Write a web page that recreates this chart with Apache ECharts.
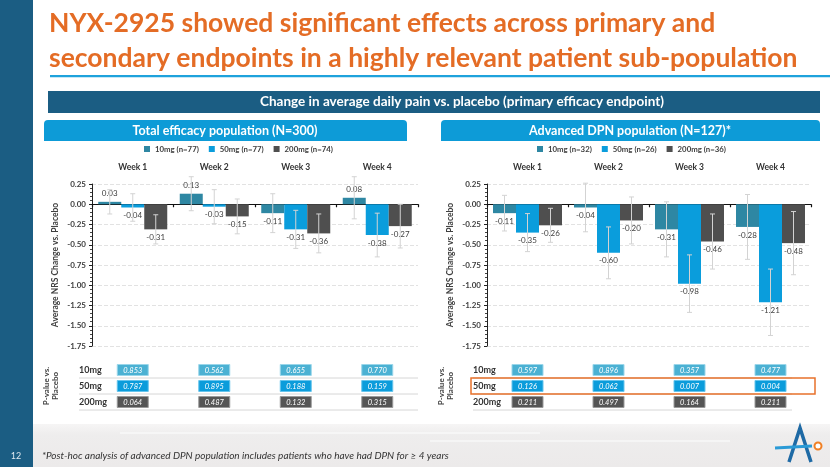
<!DOCTYPE html>
<html>
<head>
<meta charset="utf-8">
<script src="https://cdn.jsdelivr.net/npm/echarts@6/dist/echarts.min.js"></script>
<style>
html,body{margin:0;padding:0;background:#fff;}
#c{width:830px;height:467px;}
</style>
</head>
<body>
<div id="c"></div>
<script>
// ---- data ----
const weeks = ['Week 1', 'Week 2', 'Week 3', 'Week 4'];
const doses = ['10mg', '50mg', '200mg'];
const totalNames = ['10mg (n=77)', '50mg (n=77)', '200mg (n=74)'];
const advNames = ['10mg (n=32)', '50mg (n=26)', '200mg (n=36)'];

const total10 = [0.03, 0.13, -0.11, 0.08];
const total50 = [-0.04, -0.03, -0.31, -0.38];
const total200 = [-0.31, -0.15, -0.36, -0.27];
const total10Err = [0.15, 0.21, 0.24, 0.26];
const total50Err = [0.17, 0.21, 0.235, 0.27];
const total200Err = [0.18, 0.215, 0.24, 0.27];

const adv10 = [-0.11, -0.04, -0.31, -0.28];
const adv50 = [-0.35, -0.60, -0.98, -1.21];
const adv200 = [-0.26, -0.20, -0.46, -0.48];
const adv10Err = [0.22, 0.30, 0.34, 0.40];
const adv50Err = [0.235, 0.32, 0.355, 0.41];
const adv200Err = [0.21, 0.29, 0.34, 0.39];

const totalP10 = [0.853, 0.562, 0.655, 0.770];
const totalP50 = [0.787, 0.895, 0.188, 0.159];
const totalP200 = [0.064, 0.487, 0.132, 0.315];
const advP10 = [0.597, 0.896, 0.357, 0.477];
const advP50 = [0.126, 0.062, 0.007, 0.004];
const advP200 = [0.211, 0.497, 0.164, 0.211];

const yMin = -1.75, yMax = 0.25, yStep = 0.25;

// ---- styling ----
const FONT = 'Lato, "Open Sans", sans-serif';
const barColors = ['#2e87a3', '#0a9ddc', '#4f4f4f'];
const boxColors = ['#4bb1d3', '#0b9cdb', '#555555'];
const boxStroke = ['#9ad6ea', '#66c4ec', '#9a9a9a'];
const BAR_W = 23;
const offsets = [-BAR_W, 0, BAR_W];

const chart = echarts.init(document.getElementById('c'), null, {renderer: 'canvas'});

function valueAxis(gridIndex) {
  return {
    type: 'value', gridIndex: gridIndex, min: yMin, max: yMax, interval: yStep,
    name: 'Average NRS Change vs. Placebo', nameLocation: 'middle', nameGap: 32, nameRotate: 90,
    nameTextStyle: {fontFamily: FONT, fontSize: 8.5, fontWeight: 'bold', color: '#404040'},
    axisLine: {show: true, lineStyle: {color: '#222', width: 1}},
    axisTick: {show: true, length: 3, lineStyle: {color: '#222'}},
    minorTick: {show: true, splitNumber: 5, length: 2, lineStyle: {color: '#444'}},
    splitLine: {show: true, lineStyle: {color: '#e2e2e2', type: 'dashed', width: 1}},
    axisLabel: {formatter: v => v.toFixed(2), fontFamily: FONT, fontSize: 8, fontWeight: 'bold', color: '#404040', margin: 6}
  };
}
function zeroAxis(gridIndex) {
  return {
    type: 'category', gridIndex: gridIndex, data: weeks, position: 'bottom',
    axisLine: {show: true, onZero: true, lineStyle: {color: '#111', width: 1.2}},
    axisTick: {show: true, length: 3, interval: 0, lineStyle: {color: '#111', width: 1.2}},
    axisLabel: {show: false}, splitLine: {show: false}
  };
}
function weekAxis(gridIndex) {
  return {
    type: 'category', gridIndex: gridIndex, data: weeks, position: 'top',
    axisLine: {show: false, onZero: false}, axisTick: {show: false},
    axisLabel: {fontFamily: FONT, fontSize: 8.5, fontWeight: 'bold', color: '#333', margin: 12}
  };
}
function tableXAxis(gridIndex) {
  return {type: 'category', gridIndex: gridIndex, data: weeks, show: false};
}
function tableYAxis(gridIndex, margin) {
  return {
    type: 'category', gridIndex: gridIndex, data: doses, inverse: true,
    name: 'P-value vs.\nPlacebo', nameLocation: 'middle', nameGap: 32, nameRotate: 90,
    nameTextStyle: {fontFamily: FONT, fontSize: 8, fontWeight: 'bold', color: '#404040', lineHeight: 9},
    axisLine: {show: false}, axisTick: {show: false}, splitLine: {show: false},
    axisLabel: {align: 'left', margin: margin, fontFamily: FONT, fontSize: 9, fontWeight: 'bold', color: '#333'}
  };
}

function barSeries(name, vals, idx, xi, yi) {
  return {
    type: 'bar', name: name, xAxisIndex: xi, yAxisIndex: yi, data: vals,
    barWidth: BAR_W, barGap: '0%', itemStyle: {color: barColors[idx]},
    label: {show: true, position: 'outside', distance: 4, formatter: p => p.value.toFixed(2),
      fontFamily: FONT, fontSize: 8, color: '#404040'},
    z: 2
  };
}
function errSeries(vals, errs, idx, xi, yi) {
  const off = offsets[idx];
  return {
    type: 'custom', name: 'err' + xi + '_' + idx, xAxisIndex: xi, yAxisIndex: yi, z: 4, silent: true,
    data: vals.map((v, i) => [i, v, errs[i]]),
    encode: {x: 0, y: 1},
    renderItem: function (params, api) {
      const w = api.value(0), v = api.value(1), e = api.value(2);
      const t = api.coord([w, v + e]);
      const b = api.coord([w, v - e]);
      const x = t[0] + off, cap = 2.5;
      const st = {stroke: '#d3d3d3', lineWidth: 1};
      return {type: 'group', children: [
        {type: 'line', shape: {x1: x, y1: t[1], x2: x, y2: b[1]}, style: st},
        {type: 'line', shape: {x1: x - cap, y1: t[1], x2: x + cap, y2: t[1]}, style: st},
        {type: 'line', shape: {x1: x - cap, y1: b[1], x2: x + cap, y2: b[1]}, style: st}
      ]};
    }
  };
}
function pSeries(rows, xi, yi, labelMargin, lineTrimRight, highlightRow) {
  const data = [];
  rows.forEach((r, d) => r.forEach((p, w) => data.push([w, d, p])));
  return {
    type: 'custom', name: 'p' + xi, xAxisIndex: xi, yAxisIndex: yi, silent: true,
    data: data, encode: {x: 0, y: 1},
    renderItem: function (params, api) {
      const w = api.value(0), d = api.value(1), p = api.value(2);
      const c = api.coord([w, d]);
      const cs = params.coordSys;
      const bandH = cs.height / doses.length;
      const children = [];
      if (w === 0) {
        children.push({type: 'line', shape: {x1: cs.x - labelMargin, y1: c[1] + bandH / 2, x2: cs.x + cs.width - lineTrimRight, y2: c[1] + bandH / 2},
          style: {stroke: '#d6d6d6', lineWidth: 1}});
        if (d === highlightRow) {
          children.push({type: 'rect', z2: 10, shape: {x: cs.x - labelMargin - 2, y: c[1] - bandH / 2, width: cs.width + labelMargin + 6, height: bandH},
            style: {fill: 'none', stroke: '#e8712b', lineWidth: 1.5}});
        }
      }
      children.push({type: 'rect', shape: {x: c[0] - 15.5, y: c[1] - 5.5, width: 31, height: 11},
        style: {fill: boxColors[d], stroke: boxStroke[d], lineWidth: 1}});
      children.push({type: 'text', x: c[0], y: c[1] + 0.5,
        style: {text: p.toFixed(3), fill: '#fff', fontFamily: FONT, fontSize: 7.5, fontStyle: 'italic', align: 'center', verticalAlign: 'middle'}});
      return {type: 'group', children: children};
    }
  };
}

const legendText = {fontFamily: FONT, fontSize: 7.8, fontWeight: 'bold', color: '#404040'};

const option = {
  animation: false,
  backgroundColor: '#ffffff',
  textStyle: {fontFamily: FONT},
  graphic: [
    // bottom textured band
    {type: 'rect', z: -10, shape: {x: 33, y: 424, width: 797, height: 43},
      style: {fill: new echarts.graphic.LinearGradient(0, 0, 0, 1, [{offset: 0, color: '#f6f5f5'}, {offset: 0.25, color: '#eeeded'}, {offset: 1, color: '#eceaea'}])}},
    {type: 'rect', z: -9, shape: {x: 120, y: 432, width: 420, height: 2}, style: {fill: '#f6f6f6'}},
    {type: 'rect', z: -9, shape: {x: 430, y: 440, width: 300, height: 2}, style: {fill: '#f5f5f5'}},
    // left band
    {type: 'rect', shape: {x: 0, y: 0, width: 33, height: 467}, style: {fill: '#1b5d83'}},
    {type: 'text', x: 16, y: 456, style: {text: '12', fill: '#dfe9f0', fontFamily: FONT, fontSize: 9, align: 'center', verticalAlign: 'middle'}},
    // title
    {type: 'text', x: 49, y: 23, style: {text: 'NYX-2925 showed significant effects across primary and', fill: '#e46c25', fontFamily: FONT, fontSize: 26.5, fontWeight: 'bold', verticalAlign: 'middle'}},
    {type: 'text', x: 49, y: 58, style: {text: 'secondary endpoints in a highly relevant patient sub-population', fill: '#e46c25', fontFamily: FONT, fontSize: 26.5, fontWeight: 'bold', verticalAlign: 'middle'}},
    {type: 'rect', shape: {x: 50, y: 75, width: 780, height: 2.2}, style: {fill: '#1ea2dc'}},
    // banner
    {type: 'rect', shape: {x: 48, y: 91, width: 772, height: 22}, style: {fill: '#1b5d83'}},
    {type: 'text', x: 462, y: 102, style: {text: 'Change in average daily pain vs. placebo (primary efficacy endpoint)', fill: '#fff', fontFamily: FONT, fontSize: 13.5, fontWeight: 'bold', align: 'center', verticalAlign: 'middle'}},
    // sub headers
    {type: 'rect', shape: {x: 44, y: 120, width: 363, height: 21, r: [4, 4, 0, 0]}, style: {fill: '#0d9bd7'}},
    {type: 'text', x: 225, y: 131, style: {text: 'Total efficacy population (N=300)', fill: '#fff', fontFamily: FONT, fontSize: 12.5, fontWeight: 'bold', align: 'center', verticalAlign: 'middle'}},
    {type: 'rect', shape: {x: 441, y: 120, width: 379, height: 21, r: [4, 4, 0, 0]}, style: {fill: '#0d9bd7'}},
    {type: 'text', x: 630, y: 131, style: {text: 'Advanced DPN population (N=127)*', fill: '#fff', fontFamily: FONT, fontSize: 12.5, fontWeight: 'bold', align: 'center', verticalAlign: 'middle'}},
    // footnote
    {type: 'text', x: 42, y: 456, style: {text: '*Post-hoc analysis of advanced DPN population includes patients who have had DPN for \u2265 4 years', fill: '#333', fontFamily: FONT, fontSize: 10, fontStyle: 'italic', verticalAlign: 'middle'}},
    // logo
    {type: 'polyline', shape: {points: [[789, 462], [800, 428], [811, 462]]}, style: {stroke: '#1f6aa5', lineWidth: 3.5, fill: 'none'}},
    {type: 'line', shape: {x1: 775, y1: 448, x2: 812, y2: 446}, style: {stroke: '#2a9ad6', lineWidth: 3}},
    {type: 'circle', shape: {cx: 818, cy: 446, r: 3.5}, style: {fill: '#fff', stroke: '#f08024', lineWidth: 2}}
  ],
  legend: [
    {data: totalNames, left: 144, top: 145, padding: 0, itemWidth: 6, itemHeight: 6, itemGap: 10, icon: 'rect', textStyle: legendText, selectedMode: false},
    {data: advNames, left: 537, top: 145, padding: 0, itemWidth: 6, itemHeight: 6, itemGap: 10, icon: 'rect', textStyle: legendText, selectedMode: false}
  ],
  grid: [
    {left: 92, top: 184, width: 326, height: 162},
    {left: 487, top: 184, width: 324, height: 162},
    {left: 92, top: 362, width: 326, height: 48},
    {left: 487, top: 362, width: 324, height: 48}
  ],
  xAxis: [zeroAxis(0), weekAxis(0), zeroAxis(1), weekAxis(1), tableXAxis(2), tableXAxis(3)],
  yAxis: [valueAxis(0), valueAxis(1), tableYAxis(2, 13), tableYAxis(3, 14)],
  series: [
    barSeries(totalNames[0], total10, 0, 0, 0),
    barSeries(totalNames[1], total50, 1, 0, 0),
    barSeries(totalNames[2], total200, 2, 0, 0),
    errSeries(total10, total10Err, 0, 0, 0),
    errSeries(total50, total50Err, 1, 0, 0),
    errSeries(total200, total200Err, 2, 0, 0),
    barSeries(advNames[0], adv10, 0, 2, 1),
    barSeries(advNames[1], adv50, 1, 2, 1),
    barSeries(advNames[2], adv200, 2, 2, 1),
    errSeries(adv10, adv10Err, 0, 2, 1),
    errSeries(adv50, adv50Err, 1, 2, 1),
    errSeries(adv200, adv200Err, 2, 2, 1),
    pSeries([totalP10, totalP50, totalP200], 4, 2, 13, 0, -1),
    pSeries([advP10, advP50, advP200], 5, 3, 14, 19, 1)
  ]
};
chart.setOption(option);
</script>
</body>
</html>
